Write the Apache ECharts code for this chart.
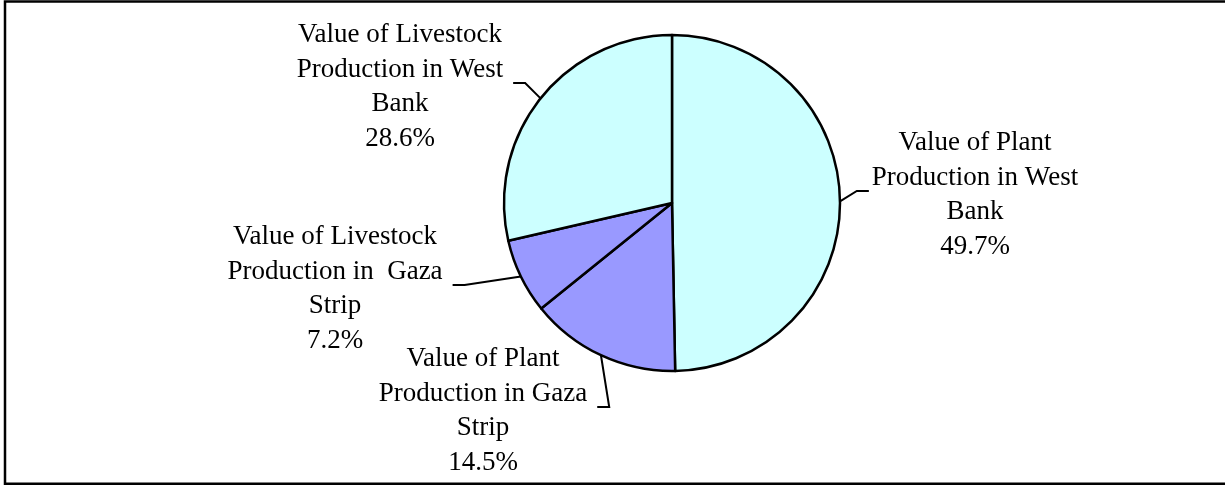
<!DOCTYPE html>
<html>
<head>
<meta charset="utf-8">
<script src="https://cdn.jsdelivr.net/npm/echarts@6/dist/echarts.min.js"></script>
<style>
html, body { margin: 0; padding: 0; background: #fff; }
#main { width: 1225px; height: 485px; }
</style>
</head>
<body>
<div id="main"></div>
<script>
var categories = [
    'Value of Plant\nProduction in West\nBank',
    'Value of Plant\nProduction in Gaza\nStrip',
    'Value of Livestock\nProduction in  Gaza\nStrip',
    'Value of Livestock\nProduction in West\nBank'
];
var shares = [49.7, 14.5, 7.2, 28.6];
var sliceColors = ['#ccffff', '#9999ff', '#9999ff', '#ccffff'];

// label block centres (layout only)
var labelCentres = [[975, 195], [483, 411], [335, 289], [400, 87]];
var pieCentre = [672, 203];

var dom = document.getElementById('main');
var myChart = echarts.init(dom, null, { renderer: 'canvas' });

var option = {
    backgroundColor: '#fff',
    animation: false,
    graphic: [{
        type: 'polyline',
        shape: { points: [[1230, 1.5], [5, 1.5], [5, 483.8], [1230, 483.8]] },
        style: { fill: null, stroke: '#000', lineWidth: 2.5 },
        silent: true
    }],
    series: [{
        type: 'pie',
        center: pieCentre,
        radius: 168,
        startAngle: 90,
        clockwise: true,
        avoidLabelOverlap: false,
        data: categories.map(function (name, i) {
            return { name: name, value: shares[i], itemStyle: { color: sliceColors[i] } };
        }),
        itemStyle: { borderColor: '#000', borderWidth: 2.5 },
        label: {
            show: true,
            position: 'outside',
            color: '#000',
            fontFamily: 'Liberation Serif',
            fontSize: 27,
            lineHeight: 34.5,
            formatter: function (p) {
                return p.name + '\n' + p.value.toFixed(1) + '%';
            }
        },
        labelLine: {
            show: true,
            lineStyle: { color: '#000', width: 2 }
        },
        labelLayout: function (params) {
            var c = labelCentres[params.dataIndex];
            var w = params.labelRect.width;
            var anchor = params.labelLinePoints ? params.labelLinePoints[0] : c;
            var end, elbow;
            if (c[0] > pieCentre[0]) {
                end = [c[0] - w / 2 - 3, c[1] - 4];
                elbow = [end[0] - 12, end[1]];
            } else {
                end = [c[0] + w / 2 + 10, c[1] - 4];
                elbow = [end[0] + 12, end[1]];
            }
            return {
                x: c[0],
                y: c[1],
                align: 'center',
                verticalAlign: 'middle',
                labelLinePoints: [anchor, elbow, end]
            };
        },
        emphasis: { disabled: true }
    }]
};

if (option && typeof option === 'object') {
    myChart.setOption(option);
}

window.addEventListener('resize', myChart.resize);
</script>
</body>
</html>
